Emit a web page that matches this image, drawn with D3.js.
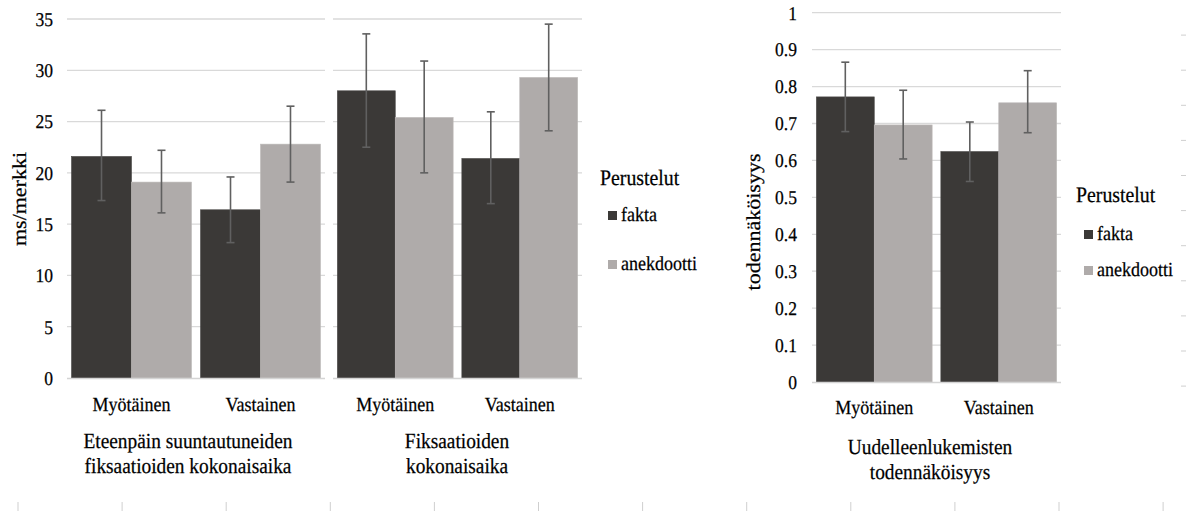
<!DOCTYPE html>
<html>
<head>
<meta charset="utf-8">
<script src="https://cdn.jsdelivr.net/npm/d3@7"></script>
<style>
  html, body { margin: 0; padding: 0; background: #fff; }
  svg { display: block; }
  svg text { text-rendering: geometricPrecision; }
</style>
</head>
<body>
<svg id="chart" width="1188" height="511"></svg>
<script>
// ---------- data ----------
const categories = ["Myötäinen", "Vastainen"];
const seriesNames = ["fakta", "anekdootti"];
const legendTitle = "Perustelut";

// Panel 1: Eteenpäin suuntautuneiden fiksaatioiden kokonaisaika (ms/merkki)
const p1Fakta = [21.6, 16.4];
const p1Anek = [19.1, 22.8];
const p1FaktaLow = [17.3, 13.2];
const p1FaktaHigh = [26.1, 19.6];
const p1AnekLow = [16.1, 19.1];
const p1AnekHigh = [22.2, 26.5];

// Panel 2: Fiksaatioiden kokonaisaika (ms/merkki)
const p2Fakta = [28.0, 21.4];
const p2Anek = [25.4, 29.3];
const p2FaktaLow = [22.5, 17.0];
const p2FaktaHigh = [33.55, 25.95];
const p2AnekLow = [20.0, 24.1];
const p2AnekHigh = [30.9, 34.5];

// Panel 3: Uudelleenlukemisten todennäköisyys
const p3Fakta = [0.772, 0.624];
const p3Anek = [0.696, 0.756];
const p3FaktaLow = [0.678, 0.543];
const p3FaktaHigh = [0.866, 0.704];
const p3AnekLow = [0.604, 0.675];
const p3AnekHigh = [0.790, 0.843];

const leftTicks = [0, 5, 10, 15, 20, 25, 30, 35];
const rightTicks = [0, 0.1, 0.2, 0.3, 0.4, 0.5, 0.6, 0.7, 0.8, 0.9, 1];
const rightTickLabels = ["0", "0.1", "0.2", "0.3", "0.4", "0.5", "0.6", "0.7", "0.8", "0.9", "1"];

const leftAxisTitle = "ms/merkki";
const rightAxisTitle = "todennäköisyys";
const p1Title = ["Eteenpäin suuntautuneiden", "fiksaatioiden kokonaisaika"];
const p2Title = ["Fiksaatioiden", "kokonaisaika"];
const p3Title = ["Uudelleenlukemisten", "todennäköisyys"];

// ---------- styling ----------
const colors = { fakta: "#3b3937", anekdootti: "#afabaa" };
const gridColor = "#d9d9d9";
const errColor = "#606060";
const FONT = "'Liberation Serif', Tinos, 'Times New Roman', Times, 'DejaVu Serif', serif";
const K = 0.9; // horizontal squeeze of glyphs

const svg = d3.select("#chart").attr("font-family", FONT);

function txt(g, x, y, s, size, anchor, rotate) {
  return g.append("text")
    .attr("transform", `translate(${x},${y}) scale(${K},1)` + (rotate ? " rotate(-90)" : ""))
    .attr("text-anchor", anchor || "start")
    .attr("font-family", FONT)
    .attr("font-size", size)
    .attr("fill", "#000")
    .attr("stroke", "#000")
    .attr("stroke-width", 0.25)
    .text(s);
}

function makeRows(fakta, anek, fl, fh, al, ah) {
  return categories.map((c, i) => ({
    cat: c,
    vals: [
      { s: "fakta", v: fakta[i], lo: fl[i], hi: fh[i] },
      { s: "anekdootti", v: anek[i], lo: al[i], hi: ah[i] }
    ]
  }));
}

function panel(opts) {
  const g = svg.append("g");
  const x0 = d3.scaleBand().domain(categories).range(opts.xr).paddingInner(0.07).paddingOuter(0.035);
  const x1 = d3.scaleBand().domain(seriesNames).range([0, x0.bandwidth()]);
  const y = opts.y;

  g.selectAll("line.grid").data(opts.ticks.filter(d => d !== 0)).enter().append("line")
    .attr("x1", opts.xr[0]).attr("x2", opts.xr[1])
    .attr("y1", d => y(d)).attr("y2", d => y(d))
    .attr("stroke", gridColor).attr("stroke-width", 1.3);

  const grp = g.selectAll("g.grp").data(opts.rows).enter().append("g")
    .attr("transform", d => `translate(${x0(d.cat)},0)`);
  grp.selectAll("rect").data(d => d.vals).enter().append("rect")
    .attr("x", d => x1(d.s)).attr("width", x1.bandwidth())
    .attr("y", d => y(d.v)).attr("height", d => y(0) - y(d.v))
    .attr("fill", d => colors[d.s])
    .attr("stroke", d => d.s === "fakta" ? "#4a4846" : "#bdb9b8").attr("stroke-width", 0.6);

  g.append("line").attr("x1", opts.xr[0]).attr("x2", opts.xr[1])
    .attr("y1", y(0) + 0.5).attr("y2", y(0) + 0.5)
    .attr("stroke", "#d4d4d4").attr("stroke-width", 1.5);

  const eb = grp.selectAll("g.eb").data(d => d.vals).enter().append("g")
    .attr("stroke", errColor).attr("stroke-width", 1.6);
  const cx = d => x1(d.s) + x1.bandwidth() / 2;
  eb.append("line").attr("x1", cx).attr("x2", cx).attr("y1", d => y(d.lo)).attr("y2", d => y(d.hi));
  eb.append("line").attr("x1", d => cx(d) - 4).attr("x2", d => cx(d) + 4).attr("y1", d => y(d.lo)).attr("y2", d => y(d.lo));
  eb.append("line").attr("x1", d => cx(d) - 4).attr("x2", d => cx(d) + 4).attr("y1", d => y(d.hi)).attr("y2", d => y(d.hi));

  categories.forEach(c => txt(g, x0(c) + x0.bandwidth() / 2, opts.catY, c, 20, "middle"));
  opts.title.forEach((l, i) => txt(g, opts.titleX, opts.titleY[i], l, 21.5, "middle"));
  return g;
}

const yL = d3.scaleLinear().domain([0, 35]).range([378, 19]);
const yR = d3.scaleLinear().domain([0, 1]).range([382, 12.7]);

panel({ xr: [67, 325], y: yL, ticks: leftTicks, rows: makeRows(p1Fakta, p1Anek, p1FaktaLow, p1FaktaHigh, p1AnekLow, p1AnekHigh),
  catY: 411, title: p1Title, titleX: 188, titleY: [448, 473] });
panel({ xr: [333, 582], y: yL, ticks: leftTicks, rows: makeRows(p2Fakta, p2Anek, p2FaktaLow, p2FaktaHigh, p2AnekLow, p2AnekHigh),
  catY: 411, title: p2Title, titleX: 457, titleY: [448, 473] });
panel({ xr: [812, 1061], y: yR, ticks: rightTicks, rows: makeRows(p3Fakta, p3Anek, p3FaktaLow, p3FaktaHigh, p3AnekLow, p3AnekHigh),
  catY: 414, title: p3Title, titleX: 930, titleY: [454, 479] });

const ax = svg.append("g");
leftTicks.forEach(t => txt(ax, 53, yL(t) + 6.8, String(t), 19.5, "end"));
rightTicks.forEach((t, i) => txt(ax, 797, yR(t) + 6.8, rightTickLabels[i], 19.5, "end"));

txt(ax, 26, 199, leftAxisTitle, 22, "middle", true);
txt(ax, 760, 222, rightAxisTitle, 22, "middle", true);

function legend(x, titleY, rowY) {
  const g = svg.append("g");
  txt(g, x, titleY, legendTitle, 22, "start");
  seriesNames.forEach((s, i) => {
    g.append("rect").attr("x", x + 8).attr("y", rowY[i] - 10).attr("width", 9).attr("height", 9).attr("fill", colors[s]);
    txt(g, x + 21, rowY[i], s, 20, "start");
  });
}
legend(600, 185, [221, 270]);
legend(1076, 202, [240, 276]);

const deco = svg.append("g").attr("stroke", "#cfcfcf").attr("stroke-width", 1);
d3.range(12).forEach(k => {
  const xx = 18 + 104.1 * k;
  deco.append("line").attr("x1", xx).attr("x2", xx).attr("y1", 502).attr("y2", 511);
});
d3.range(1, 12).forEach(k => {
  const yy = 35.1 * k;
  deco.append("line").attr("x1", 1181).attr("x2", 1186).attr("y1", yy).attr("y2", yy);
});
</script>
</body>
</html>
